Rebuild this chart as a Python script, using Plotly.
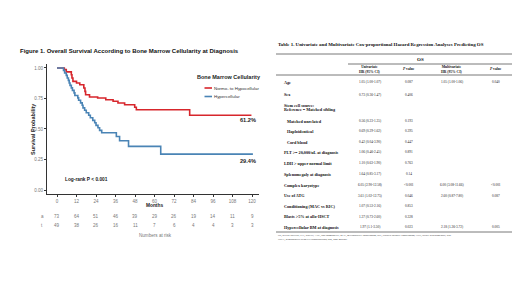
import plotly.graph_objects as go

W, H = 520, 292

# ---------------- data ----------------
months_ticks = [0, 12, 24, 36, 48, 60, 72, 84, 96, 108, 120]
at_risk_normo = [73, 64, 51, 46, 39, 29, 26, 19, 14, 11, 9]
at_risk_hyper = [49, 38, 26, 16, 11, 7, 6, 4, 4, 3, 3]

normo_t = [0, 4.5, 5.7, 8.8, 9.2, 9.8, 12, 14, 16.5, 17.2, 17.6, 20, 25, 30, 34.5, 37.5, 41.6, 47.8, 48.8, 81.6, 119.6]
normo_s = [1.0, 0.986, 0.968, 0.945, 0.918, 0.89, 0.877, 0.863, 0.836, 0.808, 0.78, 0.762, 0.754, 0.74, 0.727, 0.713, 0.699, 0.678, 0.658, 0.612, 0.612]

hyper_t = [0, 4.0, 4.7, 5.7, 6.3, 7.0, 7.5, 8.0, 8.8, 9.5, 10.5, 11.0, 12.8, 13.3, 14.5, 15.5, 16.0, 17.0, 18.0, 19.5, 20.5, 22.0, 23.2, 24.0, 25.2, 26.2, 27.5, 36.5, 38.5, 44.0, 63.8, 120.5]
hyper_s = [1.0, 0.98, 0.959, 0.939, 0.918, 0.898, 0.877, 0.857, 0.837, 0.816, 0.796, 0.775, 0.755, 0.735, 0.714, 0.694, 0.673, 0.653, 0.633, 0.612, 0.592, 0.571, 0.551, 0.53, 0.51, 0.489, 0.469, 0.438, 0.404, 0.358, 0.294, 0.294]

y_ticks = [0, 0.25, 0.5, 0.75, 1.0]
y_ticktext = ["0.00", "0.25", "0.50", "0.75", "1.00"]

table_rows = [
    "Age", "Sex", "Stem cell source:", "Reference = Matched sibling",
    "Matched unrelated", "Haploidentical", "Cord blood",
    "PLT >= 20,000/uL at diagnosis", "LDH > upper normal limit",
    "Splenomegaly at diagnosis", "Complex karyotype", "Use of ATG",
    "Conditioning (MAC vs RIC)", "Blasts >5% at allo-HSCT",
    "Hypercellular BM at diagnosis",
]
uni_hr = ["1.05 (1.00-1.07)", "0.73 (0.36-1.47)", "", "", "0.56 (0.23-1.35)",
          "0.69 (0.29-1.62)", "0.42 (0.04-3.90)", "1.06 (0.46-2.45)",
          "1.10 (0.63-1.90)", "1.64 (0.85-3.17)", "6.05 (2.90-12.58)",
          "3.61 (1.02-12.75)", "1.07 (0.53-2.16)", "1.37 (0.73-2.60)",
          "1.97 (1.1-3.50)"]
uni_p = ["0.087", "0.406", "", "", "0.193", "0.395", "0.447", "0.891", "0.763",
         "0.14", "<0.001", "0.046", "0.853", "0.328", "0.023"]
multi_hr = ["1.05 (1.00-1.06)", "", "", "", "", "", "", "", "", "",
            "6.00 (3.08-11.66)", "2.60 (0.87-7.80)", "", "", "2.18 (1.26-3.72)"]
multi_p = ["0.040", "", "", "", "", "", "", "", "", "", "<0.001", "0.087", "", "", "0.005"]

# ---------------- helpers ----------------
def px(x):
    return x / W

def py(y):
    return 1 - y / H

annotations = []
shapes = []

def txt(x, y, s, size, color="#222", bold=False, xanchor="left", family="Arial, Liberation Sans, sans-serif", angle=0):
    if bold:
        s = "<b>" + s + "</b>"
    annotations.append(dict(x=px(x), y=py(y), xref="paper", yref="paper", text=s,
                            showarrow=False, xanchor=xanchor, yanchor="middle",
                            font=dict(size=size, color=color, family=family),
                            textangle=angle))

def hline(x0, x1, y, color="#555", width=0.8):
    shapes.append(dict(type="line", xref="paper", yref="paper", x0=px(x0), x1=px(x1),
                       y0=py(y), y1=py(y), line=dict(color=color, width=width)))

RED = "#d7262c"
BLUE = "#4a84b5"

fig = go.Figure()
fig.add_trace(go.Scatter(x=normo_t, y=normo_s, mode="lines", line_shape="hv",
                         line=dict(color=RED, width=1.6), showlegend=False))
fig.add_trace(go.Scatter(x=hyper_t, y=hyper_s, mode="lines", line_shape="hv",
                         line=dict(color=BLUE, width=1.6), showlegend=False))

# ---------------- left figure texts ----------------
txt(10, 43.5, "Figure 1. Overall Survival According to Bone Marrow Cellularity at Diagnosis", 6, "#111", True)
txt(25, 121, "Survival Probability", 5.5, "#222", True, xanchor="center", angle=-90)
txt(187, 69, "Bone Marrow Cellularity", 5.5, "#222", True)
hline(196.5, 204, 80, RED, 1.6)
hline(196.5, 204, 88.5, BLUE, 1.6)
txt(204, 80, "Normo- to Hypocellular", 4.4, "#333")
txt(204, 88.5, "Hypercellular", 4.4, "#333")
txt(249.5, 111.5, "61.2%", 5.6, "#222", True, xanchor="right")
txt(249.5, 152.5, "29.4%", 5.6, "#222", True, xanchor="right")
txt(55, 171, "Log-rank P < 0.001", 4.8, "#222", True)
txt(146, 197, "Months", 4.8, "#222", True, xanchor="center")
txt(34, 208, "a", 4.5, "#777", xanchor="center")
txt(34, 217, "t", 4.5, "#777", xanchor="center")
for m, a, b in zip(months_ticks, at_risk_normo, at_risk_hyper):
    annotations.append(dict(x=m, y=py(208), xref="x", yref="paper", text=str(a), showarrow=False,
                            xanchor="center", yanchor="middle", font=dict(size=4.5, color="#777", family="Arial")))
    annotations.append(dict(x=m, y=py(217), xref="x", yref="paper", text=str(b), showarrow=False,
                            xanchor="center", yanchor="middle", font=dict(size=4.5, color="#777", family="Arial")))
txt(147, 227.5, "Numbers at risk", 4.6, "#777", xanchor="center")

# ---------------- table ----------------
SERIF = "Liberation Serif, Times New Roman, serif"
txt(268, 36.5, "Table 1. Univariate and Multivariate Cox-proportional Hazard Regression Analyses Predicting OS", 4.9, "#111", True, family=SERIF)
hline(268, 508, 46)
txt(412, 51.5, "OS", 5, "#111", True, xanchor="center", family=SERIF)
hline(340, 508, 56)
txt(362, 61.3, "Univariate<br>HR (95% CI)", 3.6, "#111", True, xanchor="center", family=SERIF)
txt(401, 61.3, "<i>P</i> value", 3.6, "#111", True, xanchor="center", family=SERIF)
txt(444, 61.3, "Multivariate<br>HR (95% CI)", 3.6, "#111", True, xanchor="center", family=SERIF)
txt(488, 61.3, "<i>P</i> value", 3.6, "#111", True, xanchor="center", family=SERIF)
hline(268, 508, 67)

row_y = [74, 87, 97, 101.5, 113, 123.5, 134, 144.5, 155, 166, 177, 187.5, 198, 208.5, 219]
for i, (lab, y) in enumerate(zip(table_rows, row_y)):
    indent = 277 if lab in ("Matched unrelated", "Haploidentical", "Cord blood") else 274
    txt(indent, y, lab, 4.2, "#111", True, family=SERIF)
    if uni_hr[i]:
        txt(362, y, uni_hr[i], 3.4, "#222", xanchor="center", family=SERIF)
    if uni_p[i]:
        txt(401, y, uni_p[i], 3.4, "#222", xanchor="center", family=SERIF)
    if multi_hr[i]:
        txt(444, y, multi_hr[i], 3.4, "#222", xanchor="center", family=SERIF)
    if multi_p[i]:
        txt(488, y, multi_p[i], 3.4, "#222", xanchor="center", family=SERIF)
hline(268, 512, 224)
txt(268, 227.6, "OS, overall survival; PLT, platelet; ANC, and thrombocyte; MAC, myeloablative conditioning; RIC, reduced intensity conditioning; LDH, lactate dehydrogenase; allo-",
    2.6, "#333", family=SERIF)
txt(268, 231.6, "HSCT, hematopoietic stem cell transplantation; BM, bone marrow.", 2.6, "#333", family=SERIF)

# ---------------- layout ----------------
x0_pix, x1_pix = 39, 250.6
y_top_pix, y_bot_pix = 56.3, 186.3

fig.update_layout(
    width=W, height=H, margin=dict(l=0, r=0, t=0, b=0),
    paper_bgcolor="white", plot_bgcolor="white",
    annotations=annotations, shapes=shapes,
    xaxis=dict(domain=[px(x0_pix), px(x1_pix)], range=[-6.15, 124], tickvals=months_ticks,
               showline=True, linecolor="#333", linewidth=1, ticks="outside", ticklen=2,
               tickcolor="#333", tickfont=dict(size=4.5, color="#777", family="Arial"),
               showgrid=False, zeroline=False),
    yaxis=dict(domain=[py(y_bot_pix), py(y_top_pix)], range=[-0.035, 1.03], tickvals=y_ticks,
               ticktext=y_ticktext, showline=True, linecolor="#333", linewidth=1,
               ticks="outside", ticklen=2, tickcolor="#333",
               tickfont=dict(size=4.5, color="#777", family="Arial"),
               showgrid=False, zeroline=False),
)

fig.write_html("out.html")
